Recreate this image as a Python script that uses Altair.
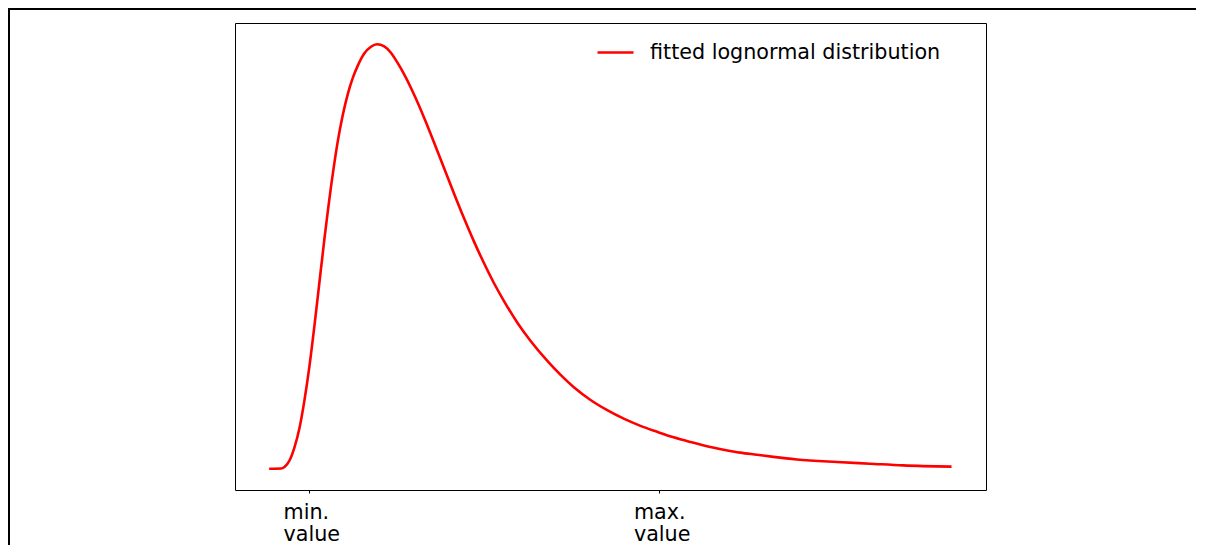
import altair as alt
import pandas as pd

# values (x in arbitrary value units, y = relative density)
x_vals = [0, 1.75, 2.24, 3.0, 3.70, 4.43, 5.16, 5.89, 6.62, 7.35, 8.08, 9.31, 10.04,
          10.77, 11.51, 12.24, 12.97, 13.93, 14.91, 15.79, 16.86, 17.84, 18.82, 19.78,
          21.24, 22.70, 24.17, 25.63, 27.09, 28.55, 30.01, 31.48, 32.94, 34.40, 36.36,
          38.30, 40.75, 42.69, 44.63, 47.08, 49.52, 51.94, 54.39, 56.83, 59.25, 61.70,
          64.14, 66.56, 69.01, 71.45, 73.87, 77.30, 83.14, 88.01, 92.88, 99.95]
y_vals = [0, 0.0005, 0.004, 0.02, 0.05, 0.095, 0.16, 0.24, 0.335, 0.437, 0.539, 0.693,
          0.770, 0.832, 0.882, 0.920, 0.949, 0.978, 0.994, 1.0, 0.995, 0.980, 0.956, 0.929,
          0.881, 0.827, 0.768, 0.708, 0.648, 0.590, 0.535, 0.484, 0.437, 0.395, 0.344,
          0.301, 0.254, 0.221, 0.192, 0.162, 0.138, 0.118, 0.101, 0.087, 0.074, 0.063,
          0.053, 0.045, 0.038, 0.033, 0.028, 0.022, 0.016, 0.012, 0.008, 0.005]
series_name = "fitted lognormal distribution"
tick_values = [5.85, 57.16]
tick_labels = ["min.\nvalue", "max.\nvalue"]

df = pd.DataFrame({"x": x_vals, "y": y_vals, "series": series_name})

label_expr = "datum.value < 30 ? ['min.', 'value'] : ['max.', 'value']"

FS = 20.7

line = alt.Chart(df).mark_line(strokeWidth=2.6, clip=False, interpolate="monotone").encode(
    x=alt.X("x:Q", scale=alt.Scale(domain=[-5, 105], nice=False, zero=False),
            axis=alt.Axis(values=tick_values, labelExpr=label_expr, title=None,
                          grid=False, domain=False, ticks=True, tickSize=3,
                          tickColor="#000", tickWidth=1, labelFont="DejaVu Sans",
                          labelFontSize=FS, labelColor="#000", labelAlign="left",
                          labelOffset=-26, labelPadding=9, labelLineHeight=22,
                          labelBaseline="top")),
    y=alt.Y("y:Q", scale=alt.Scale(domain=[-0.05, 1.05], nice=False, zero=False),
            axis=None),
    color=alt.Color("series:N", scale=alt.Scale(range=["#ff0000"]),
                    legend=alt.Legend(orient="none", legendX=361, legendY=10,
                                      title=None, symbolType="stroke",
                                      symbolSize=1296, symbolStrokeWidth=2.6,
                                      labelFont="DejaVu Sans", labelFontSize=FS,
                                      labelColor="#000", labelOffset=15,
                                      labelLimit=0, padding=0)),
)

# outer figure border (top and left edges)
border_df = pd.DataFrame({"k": [0]})
top_border = alt.Chart(border_df).mark_rule(color="#000", strokeWidth=2).encode(
    x=alt.value(-227), x2=alt.value(990), y=alt.value(-14))
left_border = alt.Chart(border_df).mark_rule(color="#000", strokeWidth=2).encode(
    x=alt.value(-226), y=alt.value(-15), y2=alt.value(540))

chart = alt.layer(line, top_border, left_border).properties(
    width=751, height=467,
    padding={"left": 227, "top": 15, "right": 210, "bottom": 55},
    autosize=alt.AutoSizeParams(type="none"),
    background="white",
).configure_view(stroke="#000", strokeWidth=1)

chart.save("out.html", embed_options={"renderer": "svg", "actions": False})
